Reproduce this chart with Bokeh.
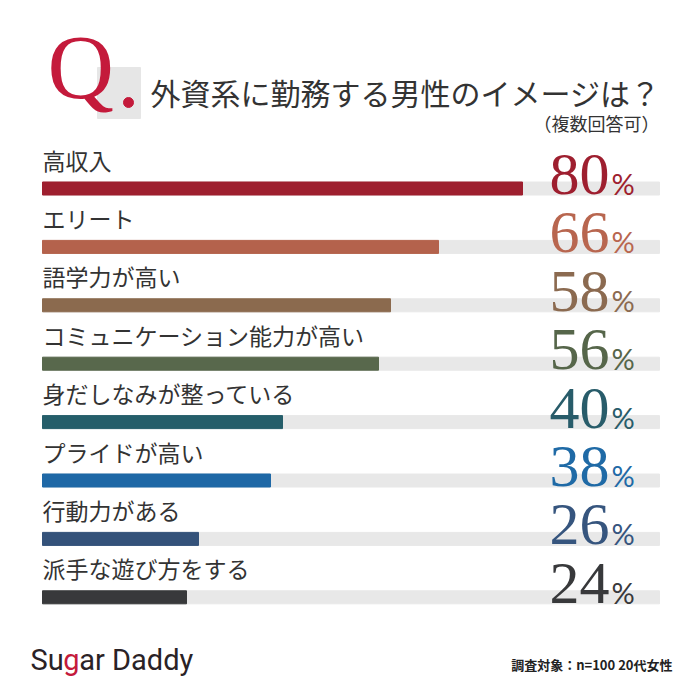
from bokeh.plotting import figure
from bokeh.models import Range1d, ColumnDataSource
from bokeh.core.properties import value
from bokeh.embed import file_html
from bokeh.resources import INLINE

# ---- data ----
title = "外資系に勤務する男性のイメージは？"
subtitle = "（複数回答可）"
categories = ["高収入", "エリート", "語学力が高い", "コミュニケーション能力が高い",
              "身だしなみが整っている", "プライドが高い", "行動力がある", "派手な遊び方をする"]
values = [80, 66, 58, 56, 40, 38, 26, 24]
colors = ["#9e1f2f", "#b4624c", "#8b6a4e", "#58684c", "#255e6a", "#1f68a6", "#34527a", "#38393b"]
num_colors = ["#9e1f2f", "#b8664f", "#8b6a50", "#56664a", "#285c6a", "#1f6aa6", "#36557e", "#38393b"]
footnote = "調査対象：n=100 20代女性"
logo_parts = ["Su", "g", "ar Daddy"]

# ---- layout constants (pixels of the 700x700 reference) ----
W = H = 690
PX_PER_PCT = 6.0
ZERO_X = 42
ROW0_Y = 188
ROW_STEP = 58.4
BAR_PX = 13
TRACK_END = (659 - ZERO_X) / PX_PER_PCT

x_range = Range1d((0 - ZERO_X) / PX_PER_PCT, (W - ZERO_X) / PX_PER_PCT)
y_range = Range1d((H - ROW0_Y) / ROW_STEP, (0 - ROW0_Y) / ROW_STEP)

p = figure(width=W, height=H, output_backend="svg", toolbar_location=None,
           x_range=x_range, y_range=y_range,
           x_axis_location=None, y_axis_location=None,
           min_border=0, min_border_left=0, min_border_right=0,
           min_border_top=0, min_border_bottom=0)
p.grid.visible = False
p.outline_line_color = None
p.background_fill_color = "white"
p.border_fill_color = "white"
p.extra_x_ranges = {"px": Range1d(0, W)}
p.extra_y_ranges = {"px": Range1d(H, 0)}

rows = list(range(len(categories)))
bar_h = BAR_PX / ROW_STEP
src = ColumnDataSource(dict(
    y=rows, v=values, cat=categories, color=colors, ncolor=num_colors,
    label_y=[r - 29 / ROW_STEP for r in rows],
    num_y=[r - 14 / ROW_STEP for r in rows],
    pct_y=[r - 5 / ROW_STEP for r in rows],
    num=[str(v) for v in values],
    pct=["%"] * len(values),
    track=[TRACK_END] * len(values),
))

# tracks and bars
p.hbar(y="y", left=0, right="track", height=bar_h, color="#e8e8e8", source=src)
p.hbar(y="y", left=0, right="v", height=bar_h, color="color", source=src)

# category labels
p.text(x=0, y="label_y", text="cat", source=src, text_font=value("Noto Sans CJK JP"),
       text_font_size="23px", text_color="#333333", text_baseline="middle",
       text_align="left")

# big numbers
p.text(x=609, y="num_y", text="num", source=src, x_range_name="px",
       text_font=value("Liberation Serif"), text_font_size="60px",
       text_color="ncolor", text_baseline="middle", text_align="right")
p.text(x=611, y="pct_y", text="pct", source=src, x_range_name="px",
       text_font=value("Lato"), text_font_size="29px",
       text_color="ncolor", text_baseline="middle", text_align="left")

# Q logo
p.quad(left=97, right=140, top=67, bottom=118, color="#e6e6e6",
       x_range_name="px", y_range_name="px")
p.text(x=[47], y=[66], text=["Q"], x_range_name="px", y_range_name="px",
       text_font=value("Liberation Serif"), text_font_size="92px",
       text_color="#c41a3b", text_baseline="middle", text_align="left")
p.scatter(x=[128], y=[102], size=10, color="#c41a3b",
          x_range_name="px", y_range_name="px")

# title / subtitle
p.text(x=[150], y=[91], text=[title], x_range_name="px", y_range_name="px",
       text_font=value("Noto Sans CJK JP"), text_font_size="30px",
       text_color="#333333", text_baseline="middle", text_align="left")
p.text(x=[659], y=[122], text=[subtitle], x_range_name="px", y_range_name="px",
       text_font=value("Noto Sans CJK JP"), text_font_size="18px",
       text_color="#333333", text_baseline="middle", text_align="right")

# footer
p.text(x=[672], y=[664], text=[footnote], x_range_name="px", y_range_name="px",
       text_font=value("Noto Sans CJK JP"), text_font_size="13px", text_font_style="bold",
       text_color="#222222", text_baseline="middle", text_align="right")

LOGO_SIZE = 29
LOGO_X = 30
LOGO_Y = 659
logo_font = value("Roboto")
p.text(x=[LOGO_X], y=[LOGO_Y], text=[logo_parts[0]], x_range_name="px", y_range_name="px",
       text_font=logo_font, text_font_size=f"{LOGO_SIZE}px",
       text_color="#2a2226", text_baseline="middle", text_align="left")
p.text(x=[LOGO_X + 1.131 * LOGO_SIZE], y=[LOGO_Y], text=[logo_parts[1]], x_range_name="px", y_range_name="px",
       text_font=logo_font, text_font_size=f"{LOGO_SIZE}px",
       text_color="#c41a3b", text_baseline="middle", text_align="left")
p.text(x=[LOGO_X + 1.679 * LOGO_SIZE], y=[LOGO_Y], text=[logo_parts[2]], x_range_name="px", y_range_name="px",
       text_font=logo_font, text_font_size=f"{LOGO_SIZE}px",
       text_color="#2a2226", text_baseline="middle", text_align="left")

open("out.html", "w").write(file_html(p, INLINE))
